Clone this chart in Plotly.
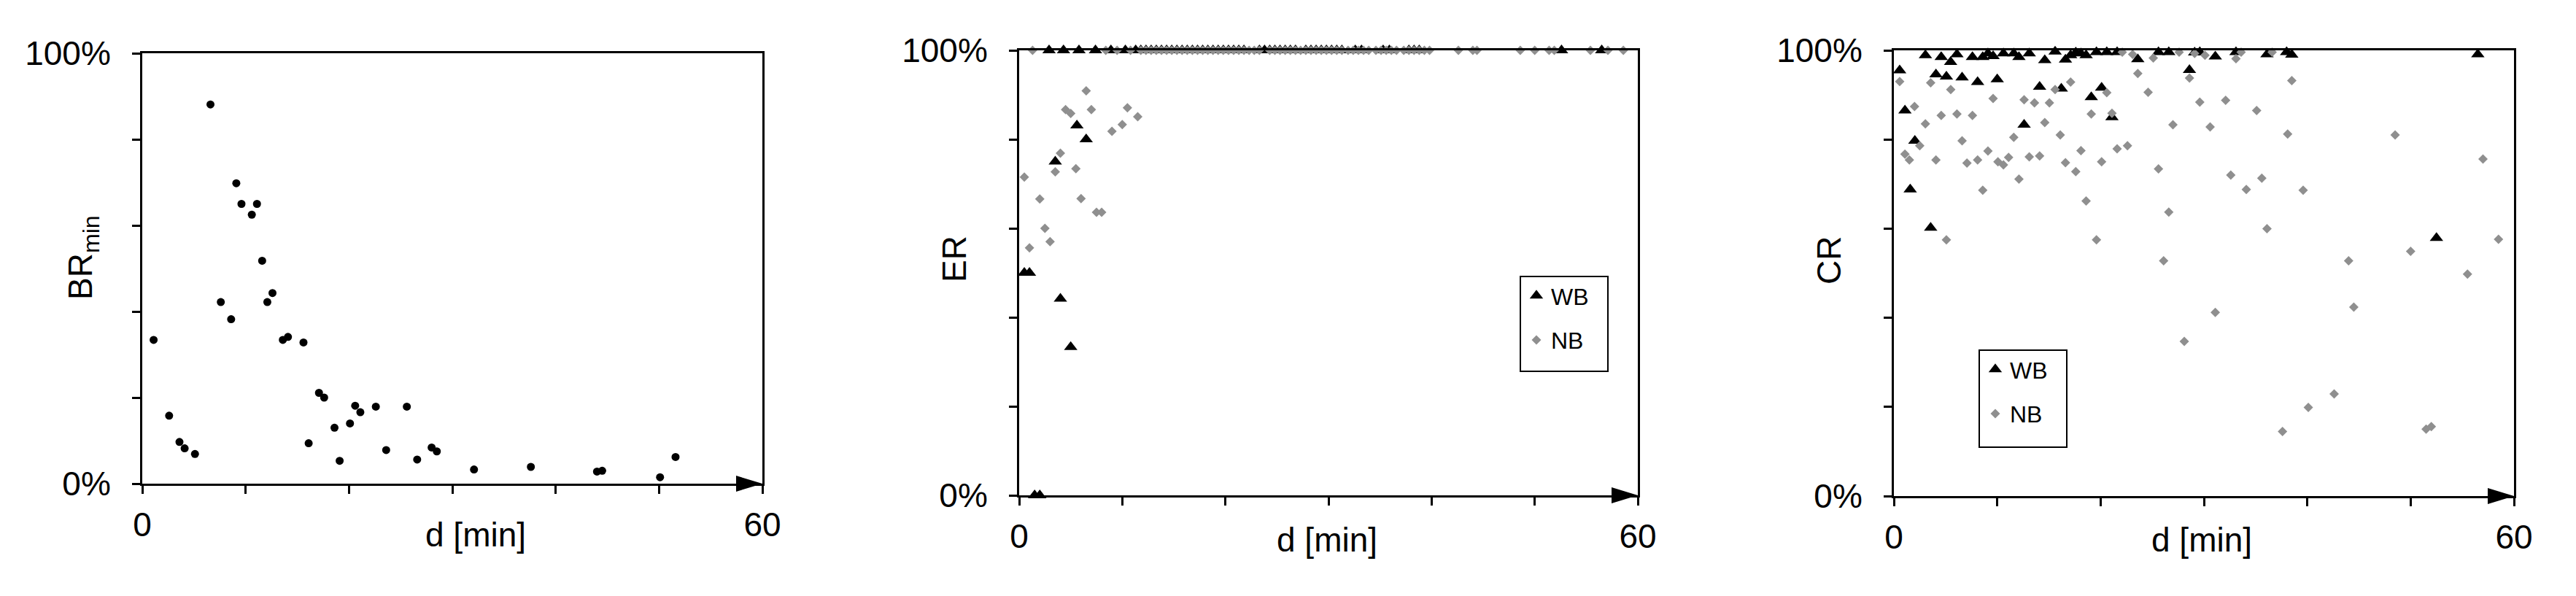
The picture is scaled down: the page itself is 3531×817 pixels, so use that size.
import plotly.graph_objects as go

# ---------------- data ----------------
# Panel 1: BRmin vs d
p1_d = [1.1, 2.6, 3.6, 4.1, 5.1, 6.6, 7.6, 8.6, 9.1, 9.6, 10.6, 11.1, 11.6, 12.1, 12.6,
        13.6, 14.1, 15.6, 16.1, 17.1, 17.6, 18.6, 19.1, 20.1, 20.6, 21.1, 22.6, 23.6,
        25.6, 26.6, 28.0, 28.5, 32.1, 37.6, 44.0, 44.5, 50.1, 51.6]
p1_br = [33.4, 15.8, 9.7, 8.2, 6.9, 88.1, 42.2, 38.2, 69.8, 65.0, 62.5, 65.0, 51.8, 42.2, 44.3,
         33.4, 34.1, 32.8, 9.4, 21.1, 20.0, 13.0, 5.3, 14.0, 18.1, 16.6, 17.9, 7.8,
         17.9, 5.6, 8.4, 7.5, 3.3, 3.9, 2.8, 3.0, 1.5, 6.2]

# Panel 2: ER vs d
p2_wb_d = [0.5, 1.0, 1.5, 2.0, 3.5, 4.0, 5.0, 5.6, 6.5,
           2.9, 4.3, 5.8, 7.4, 8.9, 10.3, 11.3,
           11.8, 12.3, 12.8, 13.3, 13.8, 14.3, 14.8, 15.3, 15.8, 16.3, 16.8, 17.3, 17.8,
           18.3, 18.8, 19.3, 19.8, 20.3, 20.8, 21.3, 21.8, 23.3, 23.8, 24.3, 24.8, 25.3,
           25.8, 26.3, 26.8, 27.8, 28.3, 28.8, 29.3, 29.8, 30.3, 30.8, 31.3, 32.6, 33.2,
           35.3, 35.9, 37.8, 38.3, 38.8, 52.6, 56.5]
p2_wb_er = [50.0, 50.0, 0.0, 0.0, 75.0, 44.2, 33.3, 83.1, 80.0,
            100, 100, 100, 100, 100, 100, 100,
            100, 100, 100, 100, 100, 100, 100, 100, 100, 100, 100, 100, 100,
            100, 100, 100, 100, 100, 100, 100, 100, 100, 100, 100, 100, 100,
            100, 100, 100, 100, 100, 100, 100, 100, 100, 100, 100, 100, 100,
            100, 100, 100, 100, 100, 100, 100]
p2_nb_d = [0.5, 1.0, 2.0, 2.5, 3.0, 3.5, 4.0, 4.5, 5.0, 5.5, 6.0, 6.5, 7.0, 7.5, 8.0,
           9.0, 10.0, 10.5, 11.5,
           1.3, 8.4, 9.5, 10.8,
           11.8, 12.3, 12.8, 13.3, 13.8, 14.3, 14.8, 15.3, 15.8, 16.3, 16.8, 17.3, 17.8,
           18.3, 18.8, 19.3, 19.8, 20.3, 20.8, 21.3, 21.8, 22.3, 22.8, 23.3,
           24.3, 24.8, 25.3, 25.8, 26.3, 26.8, 27.3, 27.8, 28.3, 28.8, 29.3, 29.8, 30.3,
           30.8, 31.3, 31.9, 32.4, 32.9, 33.4, 33.9, 34.6, 35.1, 35.6, 36.1, 36.6,
           37.3, 37.8, 38.3, 38.8, 39.3, 39.8,
           42.6, 44.0, 44.4, 48.6, 50.0, 51.4, 51.9, 55.4, 57.1, 58.6]
p2_nb_er = [71.5, 55.6, 66.6, 60.0, 57.0, 72.7, 76.9, 86.7, 85.8, 73.4, 66.7, 90.9, 86.7, 63.6, 63.6,
            81.8, 83.3, 87.1, 85.1,
            100, 100, 100, 100,
            100, 100, 100, 100, 100, 100, 100, 100, 100, 100, 100, 100, 100,
            100, 100, 100, 100, 100, 100, 100, 100, 100, 100, 100,
            100, 100, 100, 100, 100, 100, 100, 100, 100, 100, 100, 100, 100,
            100, 100, 100, 100, 100, 100, 100, 100, 100, 100, 100, 100,
            100, 100, 100, 100, 100, 100,
            100, 100, 100, 100, 100, 100, 100, 100, 100, 100]

# Panel 3: CR vs d
p3_wb_d = [0.56, 1.07, 1.58, 2.03, 3.05, 3.56, 4.07, 4.58, 5.08, 5.49, 6.1, 6.6, 7.6, 8.1,
           8.6, 9.1, 9.6, 10.0, 10.6, 11.6, 12.1, 12.6, 13.1, 14.1, 14.6, 15.6, 16.2, 16.6,
           17.1, 17.6, 18.1, 18.6, 19.1, 19.6, 20.1, 20.6, 21.1, 21.6, 23.6, 25.6, 26.6,
           28.6, 29.1, 29.6, 31.1, 33.1, 36.1, 38.0, 38.5, 52.5, 56.5]
p3_wb_cr = [95.5, 86.5, 68.8, 79.7, 98.9, 60.2, 94.6, 98.5, 94.1, 97.4, 99.1, 93.9, 98.5, 92.9,
            98.5, 99.3, 98.7, 93.5, 99.3, 99.3, 98.5, 83.3, 99.3, 91.8, 97.8, 99.7, 91.4, 97.9,
            98.9, 99.5, 99.3, 98.9, 89.5, 99.6, 91.6, 99.6, 85.0, 99.6, 98.0, 99.6, 99.6,
            95.6, 99.5, 99.6, 98.6, 99.6, 99.1, 99.6, 99.0, 57.9, 99.1]
p3_nb_d = [0.56, 1.07, 1.5, 2.0, 2.5, 3.05, 3.56, 4.07, 4.58, 5.08, 5.5, 6.1, 6.6, 7.07, 7.6,
           8.1, 8.6, 9.1, 9.6, 10.07, 10.6, 11.1, 11.6, 12.1, 12.6, 13.1, 13.6, 14.1, 14.6,
           15.05, 15.6, 16.1, 16.6, 17.1, 17.6, 18.1, 18.6, 19.1, 19.6, 20.1, 20.6, 21.1,
           21.6, 22.1, 22.6, 23.1, 23.6, 24.6, 25.1, 25.6, 26.1, 26.6, 27.0, 27.6, 28.1,
           28.6, 29.1, 29.6, 30.1, 30.6, 31.1, 32.1, 32.6, 33.1, 33.6, 34.1, 35.1, 35.6,
           36.1, 36.6, 37.6, 38.1, 38.5, 39.6, 40.1, 42.6, 44.0, 44.5, 48.5, 50.0, 51.5,
           52.0, 55.5, 57.0, 58.5]
p3_nb_cr = [93.0, 76.7, 75.4, 87.4, 78.6, 83.5, 92.7, 75.4, 85.4, 57.5, 91.2, 85.7, 79.7, 74.7, 85.4,
            75.4, 68.6, 77.4, 89.2, 75.0, 74.3, 76.0, 80.5, 71.1, 88.9, 76.1, 88.2, 76.3, 83.8,
            88.2, 91.2, 81.0, 74.8, 92.9, 72.8, 77.5, 66.2, 85.7, 57.5, 75.0, 90.5, 85.9,
            77.9, 99.6, 78.6, 99.1, 94.8, 90.6, 98.3, 73.4, 52.8, 63.7, 83.3, 99.6, 34.7,
            93.8, 99.3, 88.4, 98.9, 82.8, 41.2, 88.8, 72.0, 98.1, 99.6, 68.8, 86.5, 71.3,
            60.0, 99.6, 14.5, 81.2, 93.2, 68.6, 19.9, 22.9, 52.8, 42.4, 81.0, 54.9, 15.0,
            15.6, 49.8, 75.6, 57.6]

x_ticks = [0, 10, 20, 30, 40, 50, 60]
x_ticktext = ["0", "", "", "", "", "", "60"]
y_ticks = [0, 20, 40, 60, 80, 100]
y_ticktext = ["0%", "", "", "", "", "100%"]

# ---------------- style ----------------
PAGE_W, PAGE_H = 3531, 817
OFF = 8                      # default body margin of the html page
W, H = PAGE_W - OFF, PAGE_H - OFF
FONT = "Liberation Sans, Arial, sans-serif"
FS = 46
GRAY = "#8f8f8f"


def fx(p):
    return (p - OFF) / W


def fy(p):
    return 1 - (p - OFF) / H


# page-pixel boxes of the three plot areas: (left, right, top, bottom)
boxes = [(195, 1045, 73, 663), (1397, 2245, 69, 679), (2596, 3446, 69, 680)]

fig = go.Figure()

fig.add_trace(go.Scatter(x=p1_d, y=p1_br, mode="markers", xaxis="x", yaxis="y",
                         marker=dict(symbol="circle", size=11, color="black"),
                         showlegend=False, cliponaxis=False))

fig.add_trace(go.Scatter(x=p2_wb_d, y=p2_wb_er, mode="markers", xaxis="x2", yaxis="y2",
                         name="WB", legend="legend", legendgroup="a",
                         marker=dict(symbol="triangle-up", size=16, color="black"),
                         cliponaxis=False))
fig.add_trace(go.Scatter(x=p2_nb_d, y=p2_nb_er, mode="markers", xaxis="x2", yaxis="y2",
                         name="NB", legend="legend", legendgroup="b",
                         marker=dict(symbol="diamond", size=10, color=GRAY),
                         cliponaxis=False))

fig.add_trace(go.Scatter(x=p3_wb_d, y=p3_wb_cr, mode="markers", xaxis="x3", yaxis="y3",
                         name="WB", legend="legend2", legendgroup="c",
                         marker=dict(symbol="triangle-up", size=16, color="black"),
                         cliponaxis=False))
fig.add_trace(go.Scatter(x=p3_nb_d, y=p3_nb_cr, mode="markers", xaxis="x3", yaxis="y3",
                         name="NB", legend="legend2", legendgroup="d",
                         marker=dict(symbol="diamond", size=10, color=GRAY),
                         cliponaxis=False))

layout = dict(width=W, height=H, autosize=False,
              margin=dict(l=0, r=0, t=0, b=0, pad=0, autoexpand=False),
              paper_bgcolor="white", plot_bgcolor="white",
              font=dict(family=FONT, size=FS, color="black"))

for i, (l, r, t, b) in enumerate(boxes):
    sfx = "" if i == 0 else str(i + 1)
    xa = dict(domain=[fx(l), fx(r)], range=[0, 60], anchor="y" + sfx,
              tickvals=x_ticks, ticktext=x_ticktext, ticks="outside", ticklen=11,
              tickwidth=3, tickcolor="black", showline=True, linewidth=3,
              linecolor="black", mirror=True, showgrid=False, zeroline=False,
              automargin=False, ticklabelstandoff=3, tickfont=dict(size=FS))
    ya = dict(domain=[fy(b), fy(t)], range=[0, 100], anchor="x" + sfx,
              tickvals=y_ticks, ticktext=y_ticktext, ticks="outside", ticklen=11,
              tickwidth=3, tickcolor="black", showline=True, linewidth=3,
              linecolor="black", mirror=True, showgrid=False, zeroline=False,
              automargin=False, ticklabelstandoff=20, tickfont=dict(size=FS))
    layout["xaxis" + sfx] = xa
    layout["yaxis" + sfx] = ya

legend_common = dict(bgcolor="rgba(0,0,0,0)", borderwidth=0,
                     font=dict(size=32, family=FONT), tracegroupgap=16,
                     traceorder="grouped", xanchor="left", yanchor="top",
                     itemsizing="trace")
layout["legend"] = dict(x=fx(2086), y=fy(378), **legend_common)
layout["legend2"] = dict(x=fx(2715), y=fy(479), **legend_common)

# legend frames (page px): left, top, right, bottom
legend_boxes = [(2084, 379, 2204, 509), (2713, 480, 2833, 613)]

shapes = []
annotations = []
titles = [("BR<sub>min</sub>", 114, 353), ("ER", 1308, 355), ("CR", 2507, 357)]
xtitles = [(652, 733), (1819, 740), (3018, 740)]
for i in range(3):
    l, r, t, b = boxes[i]
    shapes.append(dict(type="path", xref="paper", yref="paper",
                       xsizemode="pixel", ysizemode="pixel",
                       xanchor=fx(r), yanchor=fy(b),
                       path="M -36,-11 L 0,0 L -36,11 Z",
                       fillcolor="black", line=dict(width=0), layer="above"))
    tt, tx, ty = titles[i]
    annotations.append(dict(text=tt, xref="paper", yref="paper", x=fx(tx), y=fy(ty),
                            xanchor="center", yanchor="middle", textangle=-90,
                            showarrow=False, font=dict(size=FS)))
    ax_, ay_ = xtitles[i]
    annotations.append(dict(text="d [min]", xref="paper", yref="paper", x=fx(ax_),
                            y=fy(ay_), xanchor="center", yanchor="middle",
                            showarrow=False, font=dict(size=FS)))

for (l, t, r, b) in legend_boxes:
    shapes.append(dict(type="rect", xref="paper", yref="paper",
                       x0=fx(l), x1=fx(r), y0=fy(b), y1=fy(t),
                       line=dict(color="black", width=2), fillcolor="white",
                       layer="above"))

layout["shapes"] = shapes
layout["annotations"] = annotations
fig.update_layout(**layout)

fig.write_html("out.html")
